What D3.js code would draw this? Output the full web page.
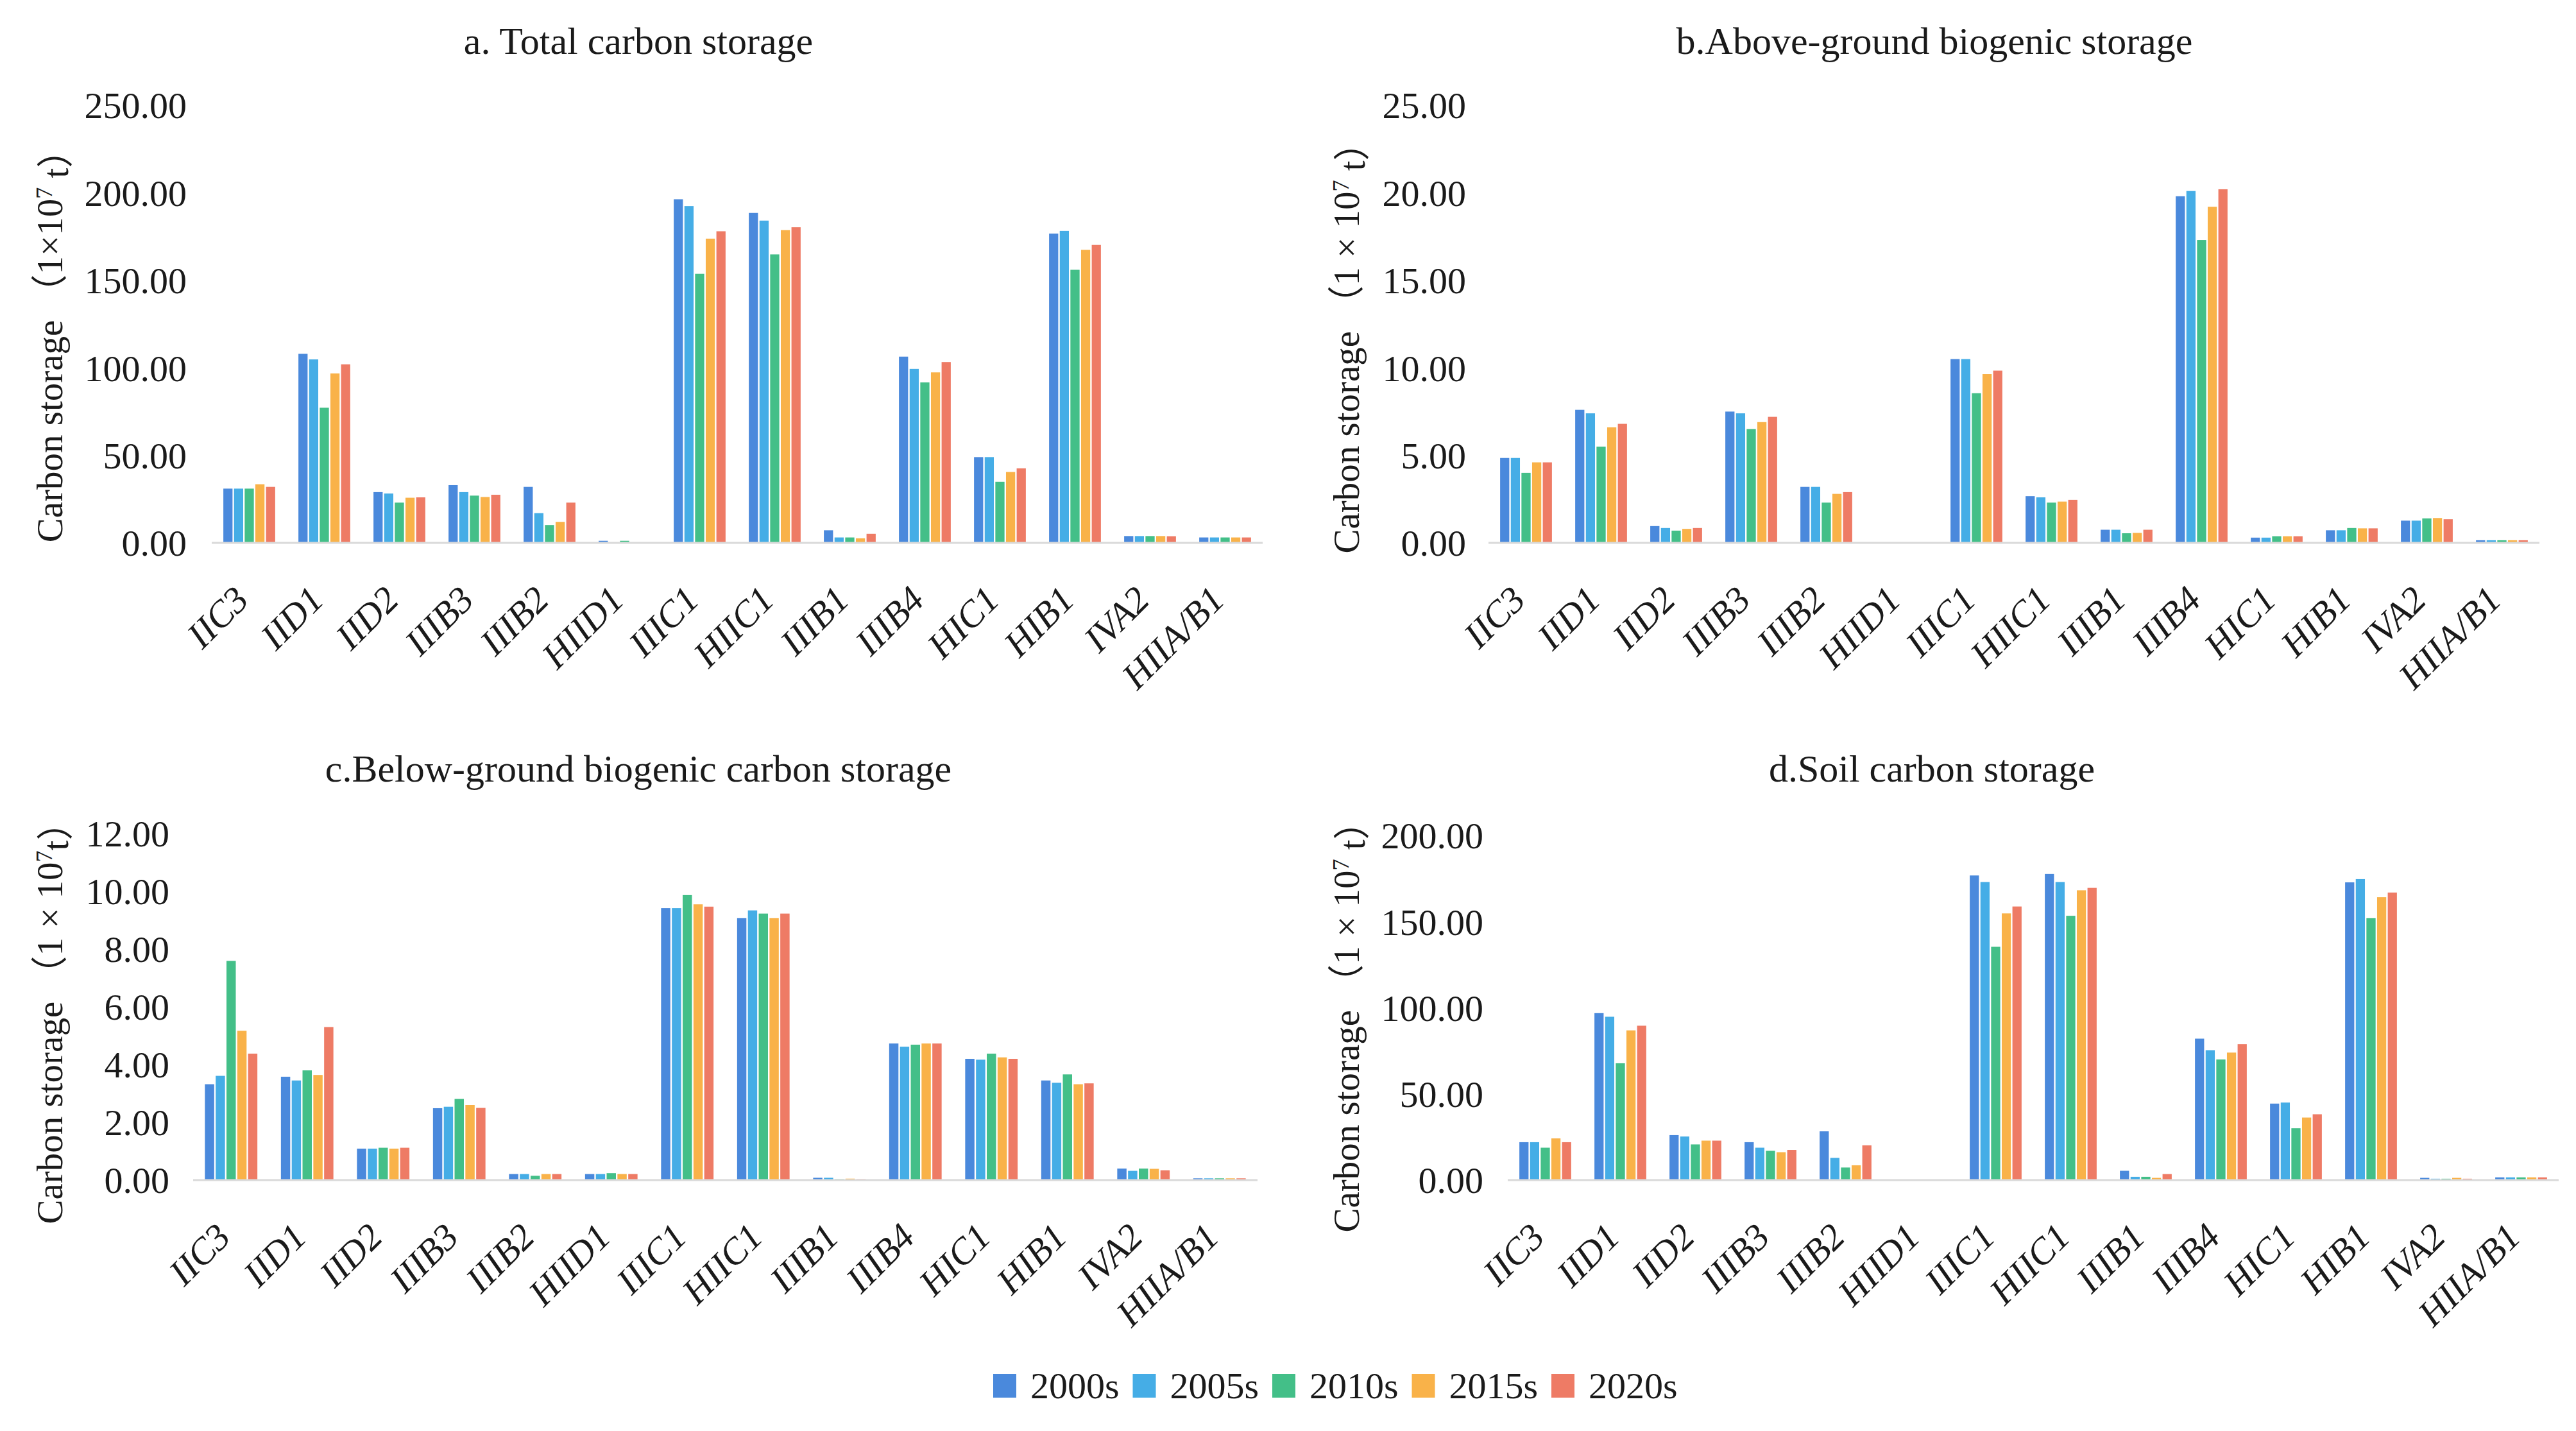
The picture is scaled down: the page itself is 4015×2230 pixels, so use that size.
<!DOCTYPE html>
<html>
<head>
<meta charset="utf-8">
<script src="https://cdn.jsdelivr.net/npm/d3@7"></script>
<style>
  html, body { margin: 0; padding: 0; background: #ffffff; }
  svg text { font-family: 'Liberation Serif', 'DejaVu Serif', serif; fill: #1a1a1a; }
</style>
</head>
<body>
<div id="chart"></div>
<script>
// ===========================================================
// DATA
// ===========================================================
var regions = ["IIC3", "IID1", "IID2", "IIIB3", "IIIB2", "HIID1", "IIIC1",
               "HIIC1", "IIIB1", "IIIB4", "HIC1", "HIB1", "IVA2", "HIIA/B1"];
var periods = ["2000s", "2005s", "2010s", "2015s", "2020s"];

// one row per region: 2000s, 2005s, 2010s, 2015s, 2020s
var totalStorage = [
    [31.0, 31.0, 31.0, 33.5, 32.0],
    [108.0, 104.8, 77.2, 96.8, 102.0],
    [29.0, 28.2, 23.0, 25.8, 26.0],
    [33.0, 29.0, 27.0, 26.2, 27.5],
    [32.0, 17.0, 10.2, 12.0, 23.0],
    [1.2, 0.3, 1.2, 0.3, 0.3],
    [196.3, 192.4, 153.7, 173.8, 178.0],
    [188.5, 184.1, 164.8, 178.7, 180.3],
    [7.2, 3.1, 3.1, 2.6, 5.2],
    [106.4, 99.4, 91.7, 97.4, 103.3],
    [49.0, 49.0, 34.9, 40.5, 42.6],
    [176.7, 178.2, 156.0, 167.4, 170.2],
    [3.9, 3.9, 3.9, 3.9, 3.8],
    [3.1, 3.1, 3.1, 3.1, 3.1]
];
var aboveStorage = [
    [4.85, 4.85, 4.00, 4.60, 4.60],
    [7.60, 7.40, 5.50, 6.60, 6.80],
    [0.96, 0.85, 0.70, 0.80, 0.85],
    [7.50, 7.40, 6.50, 6.90, 7.20],
    [3.20, 3.20, 2.30, 2.80, 2.90],
    [0.01, 0.01, 0.01, 0.01, 0.01],
    [10.50, 10.50, 8.55, 9.64, 9.84],
    [2.67, 2.60, 2.30, 2.36, 2.46],
    [0.75, 0.75, 0.55, 0.57, 0.75],
    [19.80, 20.10, 17.30, 19.20, 20.20],
    [0.30, 0.30, 0.38, 0.38, 0.38],
    [0.72, 0.72, 0.85, 0.83, 0.83],
    [1.27, 1.27, 1.40, 1.42, 1.35],
    [0.15, 0.15, 0.15, 0.15, 0.15]
];
var belowStorage = [
    [3.32, 3.61, 7.59, 5.17, 4.38],
    [3.58, 3.45, 3.80, 3.64, 5.30],
    [1.09, 1.09, 1.12, 1.09, 1.12],
    [2.49, 2.54, 2.81, 2.60, 2.50],
    [0.21, 0.21, 0.15, 0.21, 0.21],
    [0.21, 0.21, 0.24, 0.21, 0.21],
    [9.42, 9.42, 9.87, 9.55, 9.47],
    [9.07, 9.34, 9.23, 9.07, 9.23],
    [0.08, 0.08, 0.03, 0.05, 0.03],
    [4.73, 4.62, 4.69, 4.73, 4.73],
    [4.20, 4.17, 4.38, 4.25, 4.20],
    [3.45, 3.37, 3.66, 3.32, 3.35],
    [0.40, 0.32, 0.40, 0.39, 0.34],
    [0.06, 0.06, 0.06, 0.06, 0.06]
];
var soilStorage = [
    [22.0, 22.0, 18.8, 24.2, 22.0],
    [96.9, 94.8, 67.8, 86.9, 89.6],
    [26.1, 25.3, 20.7, 22.9, 22.9],
    [22.0, 18.8, 17.0, 16.2, 17.5],
    [28.3, 12.9, 7.3, 8.6, 20.2],
    [0.0, 0.0, 0.0, 0.0, 0.0],
    [176.8, 173.0, 135.4, 154.8, 158.8],
    [177.7, 173.0, 153.4, 168.2, 169.6],
    [5.4, 1.9, 1.9, 1.3, 3.5],
    [82.1, 75.4, 70.0, 74.0, 78.9],
    [44.4, 45.0, 30.1, 36.3, 38.2],
    [172.8, 174.7, 152.0, 164.2, 166.9],
    [1.3, 0.8, 0.8, 1.3, 0.8],
    [1.6, 1.6, 1.6, 1.6, 1.6]
];

var totalTicks = [0, 50, 100, 150, 200, 250];
var aboveTicks = [0, 5, 10, 15, 20, 25];
var belowTicks = [0, 2, 4, 6, 8, 10, 12];
var soilTicks = [0, 50, 100, 150, 200];

var titles = ["a. Total carbon storage", "b.Above-ground biogenic storage",
              "c.Below-ground biogenic carbon storage", "d.Soil carbon storage"];

var colors = ["#4a89dc", "#45ade6", "#43bf88", "#f9b249", "#ee7b65"];

// ===========================================================
// SVG WRAPPER
// ===========================================================
var svgWidth = 4015;
var svgHeight = 2230;
var serif = "'Liberation Serif', 'DejaVu Serif', serif";

var svg = d3.select("#chart")
    .append("svg")
    .attr("width", svgWidth)
    .attr("height", svgHeight)
    .attr("font-family", serif);

var color = d3.scaleOrdinal().domain(periods).range(colors);

// panel layout (pixels)
var panels = [
    {title: titles[0], values: totalStorage, ticks: totalTicks, unit: "（1×10", unitEnd: " t）",
     x0: 330, x1: 1968, yTop: 164, yBase: 846, labelRight: 291, titleX: 995, titleY: 84, axisTitleX: 77, axisTitleY: 525},
    {title: titles[1], values: aboveStorage, ticks: aboveTicks, unit: "（1 × 10", unitEnd: " t）",
     x0: 2320, x1: 3958, yTop: 164, yBase: 846, labelRight: 2285, titleX: 3015, titleY: 84, axisTitleX: 2098, axisTitleY: 528},
    {title: titles[2], values: belowStorage, ticks: belowTicks, unit: "（1 × 10", unitEnd: "t）",
     x0: 301, x1: 1960, yTop: 1299, yBase: 1839, labelRight: 264, titleX: 995, titleY: 1218, axisTitleX: 77, axisTitleY: 1580},
    {title: titles[3], values: soilStorage, ticks: soilTicks, unit: "（1 × 10", unitEnd: " t）",
     x0: 2350, x1: 3988, yTop: 1302, yBase: 1839, labelRight: 2312, titleX: 3011, titleY: 1218, axisTitleX: 2098, axisTitleY: 1586}
];

// ===========================================================
// PANELS
// ===========================================================
panels.forEach(function(p) {
    var g = svg.append("g");

    var x = d3.scaleBand()
        .domain(regions)
        .range([p.x0, p.x1])
        .paddingInner(0.27)
        .paddingOuter(0.135);

    var xInner = d3.scaleBand()
        .domain(periods)
        .range([0, x.bandwidth()])
        .padding(0.14);

    var y = d3.scaleLinear()
        .domain([0, d3.max(p.ticks)])
        .range([p.yBase, p.yTop]);

    // bars
    var groups = g.append("g")
        .selectAll("g")
        .data(regions)
        .enter()
        .append("g")
        .attr("transform", function(d) { return "translate(" + x(d) + ",0)"; });

    groups.selectAll("rect")
        .data(function(d, i) {
            return periods.map(function(per, j) { return {period: per, value: p.values[i][j]}; });
        })
        .enter()
        .append("rect")
        .attr("x", function(d) { return xInner(d.period); })
        .attr("y", function(d) { return y(d.value); })
        .attr("width", xInner.bandwidth())
        .attr("height", function(d) { return y(0) - y(d.value); })
        .attr("fill", function(d) { return color(d.period); });

    // baseline
    g.append("line")
        .attr("x1", p.x0)
        .attr("x2", p.x1)
        .attr("y1", y(0))
        .attr("y2", y(0))
        .attr("stroke", "#d9d9d9")
        .attr("stroke-width", 3);

    // y tick labels
    g.append("g")
        .selectAll("text")
        .data(p.ticks)
        .enter()
        .append("text")
        .attr("x", p.labelRight)
        .attr("y", function(d) { return y(d); })
        .attr("dy", "0.35em")
        .attr("text-anchor", "end")
        .attr("font-family", serif)
        .style("font-size", "58px")
        .text(function(d) { return d3.format(".2f")(d); });

    // x labels
    g.append("g")
        .selectAll("text")
        .data(regions)
        .enter()
        .append("text")
        .attr("transform", function(d) {
            return "translate(" + (x(d) + x.bandwidth() / 2 + 2) + "," + (p.yBase + 92) + ") rotate(-45)";
        })
        .attr("text-anchor", "end")
        .attr("font-family", serif)
        .style("font-size", "58px")
        .style("font-style", "italic")
        .text(function(d) { return d; });

    // title
    g.append("text")
        .attr("x", p.titleX)
        .attr("y", p.titleY)
        .attr("text-anchor", "middle")
        .attr("font-family", serif)
        .style("font-size", "60px")
        .text(p.title);

    // y axis title
    var yt = g.append("text")
        .attr("transform", "translate(" + p.axisTitleX + "," + p.axisTitleY + ") rotate(-90)")
        .attr("text-anchor", "middle")
        .attr("dy", "0.35em")
        .attr("font-family", serif)
        .style("font-size", "57px");
    yt.append("tspan").text("Carbon storage ");
    yt.append("tspan").style("font-family", "'Noto Sans CJK SC', sans-serif").text("（");
    yt.append("tspan").text(p.unit.slice(1));
    yt.append("tspan").attr("dy", "-0.45em").style("font-size", "36px").text("7");
    yt.append("tspan").attr("dy", "0.45em").text(p.unitEnd.slice(0, -1));
    yt.append("tspan").style("font-family", "'Noto Sans CJK SC', sans-serif").text("）");
});

// ===========================================================
// LEGEND
// ===========================================================
var legend = svg.append("g")
    .selectAll("g")
    .data(periods)
    .enter()
    .append("g")
    .attr("transform", function(d, i) { return "translate(" + (1548 + i * 217.5) + ",2159)"; });

legend.append("rect")
    .attr("x", 0)
    .attr("y", -18)
    .attr("width", 36)
    .attr("height", 37)
    .attr("fill", function(d) { return color(d); });

legend.append("text")
    .attr("x", 58)
    .attr("y", 0)
    .attr("dy", "0.35em")
    .attr("font-family", serif)
    .style("font-size", "58px")
    .text(function(d) { return d; });
</script>
</body>
</html>
